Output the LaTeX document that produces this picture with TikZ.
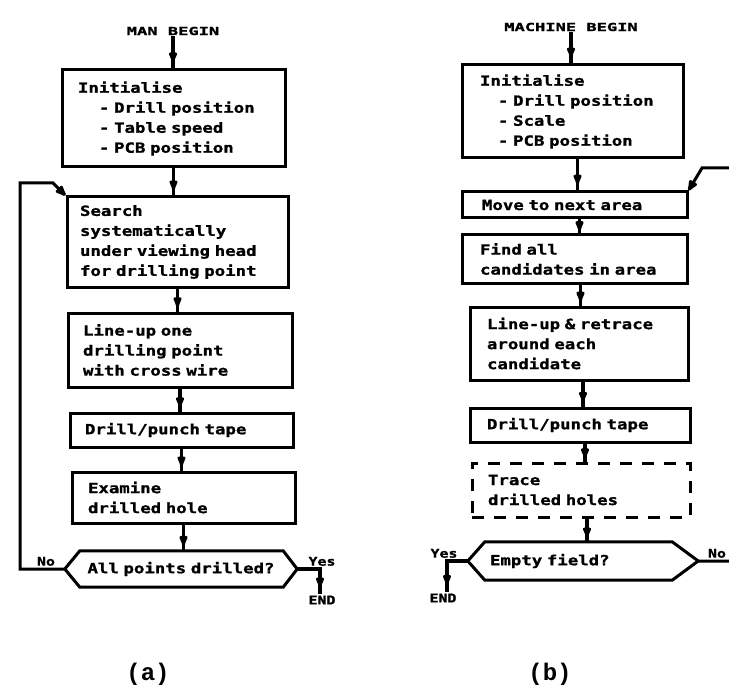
\documentclass[tikz,border=0pt]{standalone}
\usepackage{fontspec}
\usetikzlibrary{arrows.meta,decorations.markings}
\newfontfamily\chartfont[FakeStretch=1.24,FakeBold=1.2]{DejaVu Sans Mono}
\newfontfamily\headfont[FakeStretch=1.55,FakeBold=1.5]{DejaVu Sans Mono}
\newfontfamily\capfont{Liberation Mono}

\begin{document}
\begin{tikzpicture}[x=1pt, y=-1pt,
  ln/.style={line width=3pt},
  box/.style={draw, ln, rectangle, align=left, inner ysep=0pt,
    font=\chartfont\bfseries\fontsize{14}{20}\selectfont},
  dashbox/.style={box, dash pattern=on 12pt off 10pt},
  decide/.style={rectangle, inner ysep=0pt,
    font=\chartfont\bfseries\fontsize{14}{20}\selectfont},
  tagtext/.style={inner sep=1pt, font=\chartfont\bfseries\fontsize{12}{13}\selectfont},
  headtext/.style={inner sep=1pt, font=\headfont\bfseries\fontsize{11}{12}\selectfont},
  flow/.style={line width=3.4pt, postaction={decorate}, decoration={markings,
    mark=at position #1 with {\arrow{Latex[length=15pt,width=10pt,round]}}}},
  flow/.default=0.8,
  backflow/.style={ln, -{Latex[length=15pt,width=11pt,round]}},
  subcap/.style={font=\capfont\bfseries\fontsize{24}{26}\selectfont}
]
\useasboundingbox (0,0) rectangle (729,690);

% ---------------- (a) manual procedure ----------------
\node[headtext] (mbeg1) at (173,31) {MAN BEGIN};
\node[box, minimum width=223pt, minimum height=97pt, text width=191pt, inner xsep=16pt]
  (init1) at (173.5,118.5)
  {Initialise\\\hspace*{21pt}-~Drill~position\\\hspace*{21pt}-~Table~speed\\\hspace*{21pt}-~PCB~position};
\node[box, minimum width=221pt, minimum height=90pt, text width=195pt, inner xsep=13pt]
  (search) at (177.5,242)
  {Search\\systematically\\under~viewing~head\\for~drilling~point};
\node[box, minimum width=224pt, minimum height=74pt, text width=194pt, inner xsep=15pt]
  (lineup1) at (180,350)
  {Line-up one\\drilling point\\with cross wire};
\node[box, minimum width=223pt, minimum height=34pt, text width=193pt, inner xsep=15pt]
  (drill1) at (181.5,430) {Drill/punch tape};
\node[box, minimum width=223pt, minimum height=51pt, text width=191pt, inner xsep=16pt]
  (exam) at (183.5,497.5) {Examine\\drilled hole};
\node[decide, minimum width=232pt, minimum height=36pt, text width=200pt, inner xsep=16pt, align=center]
  (dec1) at (181,569) {All~points~drilled?};
\draw[ln] (dec1.west) -- ([xshift=15pt]dec1.north west) -- ([xshift=-14pt]dec1.north east)
  -- (dec1.east) -- ([xshift=-14pt]dec1.south east) -- ([xshift=15pt]dec1.south west) -- cycle;

\node[tagtext, anchor=south] (no1) at (46,567) {No};
\node[tagtext, anchor=south] (yes1) at (322,567) {Yes};
\node[tagtext] (end1) at (322,600) {END};

\draw[flow] (mbeg1.south) -- (mbeg1.south |- init1.north);
\draw[flow] (init1.south) -- (init1.south |- search.north);
\draw[flow] (search.south) -- (search.south |- lineup1.north);
\draw[flow] (lineup1.south) -- (lineup1.south |- drill1.north);
\draw[flow] (drill1.south) -- (drill1.south |- exam.north);
\draw[flow] (exam.south) -- (exam.south |- dec1.north);

\coordinate (ya) at (320,569);
\draw[flow=0.85] (dec1.east) -- (ya) -- (ya |- end1.north);

\coordinate (la) at (20,183);
\coordinate (lb) at (53,183);
\draw[backflow] (dec1.west) -| (la) -- (lb) -- (search.north west);

% ---------------- (b) machine procedure ----------------
\node[headtext] (mbeg2) at (571,27) {MACHINE BEGIN};
\node[box, minimum width=221pt, minimum height=93pt, text width=185pt, inner xsep=18pt]
  (init2) at (572.5,111.5)
  {Initialise\\\hspace*{18pt}-~Drill~position\\\hspace*{18pt}-~Scale\\\hspace*{18pt}-~PCB~position};
\node[box, minimum width=225pt, minimum height=26pt, text width=185pt, inner xsep=20pt]
  (move) at (574.5,205) {Move~to~next~area};
\node[box, minimum width=225pt, minimum height=48pt, text width=189pt, inner xsep=18pt]
  (find) at (574.5,259) {Find all\\candidates~in~area};
\node[box, minimum width=218pt, minimum height=73pt, text width=184pt, inner xsep=17pt]
  (lineup2) at (579,343.5) {Line-up~\&~retrace\\around each\\candidate};
\node[box, minimum width=220pt, minimum height=34pt, text width=186pt, inner xsep=17pt]
  (drill2) at (580,425) {Drill/punch tape};
\node[dashbox, minimum width=218pt, minimum height=54pt, text width=186pt, inner xsep=16pt]
  (trace) at (581,490) {Trace\\drilled holes};
\node[decide, minimum width=230pt, minimum height=38pt, text width=186pt, inner xsep=22pt, align=left]
  (dec2) at (583,561) {Empty~field?};
\draw[ln] (dec2.west) -- ([xshift=17pt]dec2.north west) -- ([xshift=-26pt]dec2.north east)
  -- (dec2.east) -- ([xshift=-26pt]dec2.south east) -- ([xshift=17pt]dec2.south west) -- cycle;

\node[tagtext, anchor=south] (yes2) at (444,559) {Yes};
\node[tagtext] (end2) at (443,598) {END};
\node[tagtext, anchor=south] (no2) at (717,559) {No};

\draw[flow] (mbeg2.south) -- (mbeg2.south |- init2.north);
\draw[flow] ([xshift=5pt]init2.south) -- ([xshift=5pt]init2.south |- move.north);
\draw[flow] ([xshift=5pt]move.south) -- ([xshift=5pt]move.south |- find.north);
\draw[flow] ([xshift=6pt]find.south) -- ([xshift=6pt]find.south |- lineup2.north);
\draw[flow] ([xshift=4pt]lineup2.south) -- ([xshift=4pt]lineup2.south |- drill2.north);
\draw[flow] ([xshift=5pt]drill2.south) -- ([xshift=5pt]drill2.south |- trace.north);
\draw[flow] ([xshift=6pt]trace.south) -- ([xshift=6pt]trace.south |- dec2.north);

\coordinate (yb) at (447,561);
\draw[flow=0.85] (dec2.west) -- (yb) -- (yb |- end2.north);

\coordinate (ra) at (731,168);
\coordinate (rb) at (702,168);
\draw[backflow] (dec2.east) -| (ra) -- (rb) -- (move.north east);

% ---------------- sub-figure captions ----------------
\node[subcap] (capa) at (148,674) {(a)};
\node[subcap] (capb) at (550,674) {(b)};
\end{tikzpicture}
\end{document}
